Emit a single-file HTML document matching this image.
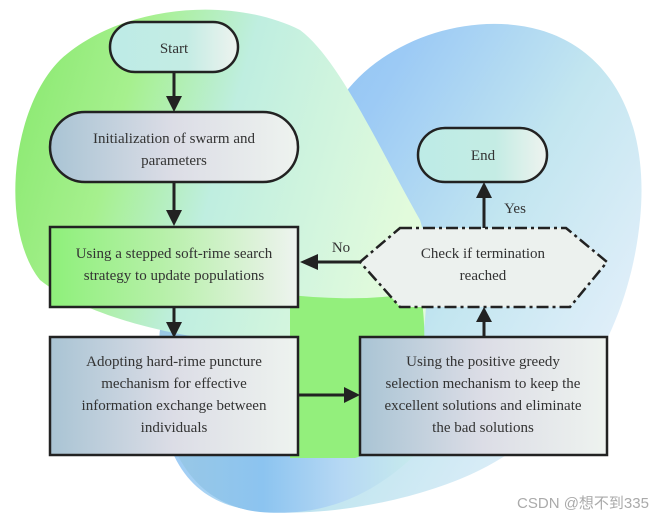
<!DOCTYPE html>
<html><head><meta charset="utf-8"><style>
body{margin:0;background:#fff;}
svg{display:block}
text{font-family:"Liberation Serif",serif;font-size:15px;fill:#333;text-anchor:middle}
</style></head><body>
<svg width="655" height="521" viewBox="0 0 655 521">
<defs>
<linearGradient id="g" x1="0" y1="0" x2="1" y2="0.3">
<stop offset="0" stop-color="#86e86c"/><stop offset="0.3" stop-color="#a6f08e"/><stop offset="0.55" stop-color="#bfeee0"/><stop offset="1" stop-color="#e2fbdc"/></linearGradient>
<linearGradient id="b" x1="0" y1="0" x2="1" y2="0.6">
<stop offset="0" stop-color="#7fbbef"/><stop offset="0.4" stop-color="#9ccaf5"/><stop offset="0.7" stop-color="#c3e6f0"/><stop offset="1" stop-color="#e2effa"/></linearGradient>
<linearGradient id="b2" x1="0" y1="0" x2="1" y2="0">
<stop offset="0" stop-color="#9ac8e4"/><stop offset="0.4" stop-color="#8cc4f0"/><stop offset="0.7" stop-color="#b6d8f4"/><stop offset="1" stop-color="#c8ecec"/></linearGradient>
<linearGradient id="box" x1="0" y1="0" x2="1" y2="0">
<stop offset="0" stop-color="#a9c4d4"/><stop offset="0.5" stop-color="#dcdde6"/><stop offset="1" stop-color="#eef3ef"/></linearGradient>
<linearGradient id="box2" x1="0" y1="0" x2="1" y2="0">
<stop offset="0" stop-color="#8ef07a"/><stop offset="0.45" stop-color="#b6f0a8"/><stop offset="1" stop-color="#eef3ef"/></linearGradient>
<linearGradient id="st" x1="0" y1="0" x2="1" y2="0">
<stop offset="0" stop-color="#bdebe6"/><stop offset="0.6" stop-color="#c4ece4"/><stop offset="1" stop-color="#eef3ef"/></linearGradient>
</defs>
<path d="M340 100 C380 40 470 10 540 30 C610 50 650 120 640 220 C630 320 580 420 480 470 C420 500 320 520 250 510 C180 500 150 440 160 330 Z" fill="url(#b)"/>
<path d="M160 330 C150 440 190 505 260 512 C330 518 380 490 420 450 L420 330 Z" fill="url(#b2)"/>
<path d="M60 60 C120 5 230 -5 300 30 C340 60 380 150 420 220 C430 250 428 320 420 350 C410 410 390 445 355 455 L290 455 L290 345 C200 345 90 320 40 280 C0 230 10 110 60 60 Z" fill="url(#g)"/>
<path d="M290 295 C340 300 390 300 420 290 C428 330 425 380 410 410 C395 440 375 452 355 458 L290 458 Z" fill="#93ef7c"/>
<g stroke="#222" stroke-width="3" fill="none">
<line x1="174" y1="72" x2="174" y2="100"/>
<line x1="174" y1="182" x2="174" y2="215"/>
<line x1="174" y1="307" x2="174" y2="326"/>
<line x1="298" y1="395" x2="347" y2="395"/>
<line x1="484" y1="337" x2="484" y2="318"/>
<line x1="484" y1="228" x2="484" y2="194"/>
<line x1="360" y1="262" x2="316" y2="262"/>
</g>
<g fill="#222">
<polygon points="166,96 182,96 174,112"/>
<polygon points="166,210 182,210 174,226"/>
<polygon points="166,322 182,322 174,338"/>
<polygon points="344,387 344,403 360,395"/>
<polygon points="476,322 492,322 484,307"/>
<polygon points="476,198 492,198 484,182"/>
<polygon points="318,254 318,270 300,262"/>
</g>
<rect x="110" y="22" width="128" height="50" rx="25" fill="url(#st)" stroke="#222" stroke-width="2.5"/>
<text x="174" y="53">Start</text>
<rect x="50" y="112" width="248" height="70" rx="35" fill="url(#box)" stroke="#222" stroke-width="2.5"/>
<text x="174" y="143">Initialization of swarm and</text>
<text x="174" y="165">parameters</text>
<rect x="418" y="128" width="129" height="54" rx="27" fill="url(#st)" stroke="#222" stroke-width="2.5"/>
<text x="483" y="160">End</text>
<rect x="50" y="227" width="248" height="80" fill="url(#box2)" stroke="#222" stroke-width="2.5"/>
<text x="174" y="258">Using a stepped soft-rime search</text>
<text x="174" y="280">strategy to update populations</text>
<polygon points="400,228 566,228 607,262 570,307 400,307 360,262" fill="#ecf1ee" stroke="#222" stroke-width="2.5" stroke-dasharray="12,4,3,4"/>
<text x="483" y="258">Check if termination</text>
<text x="483" y="280">reached</text>
<text x="341" y="252">No</text>
<text x="515" y="213">Yes</text>
<rect x="50" y="337" width="248" height="118" fill="url(#box)" stroke="#222" stroke-width="2.5"/>
<text x="174" y="366">Adopting hard-rime puncture</text>
<text x="174" y="388">mechanism for effective</text>
<text x="174" y="410">information exchange between</text>
<text x="174" y="432">individuals</text>
<rect x="360" y="337" width="247" height="118" fill="url(#box)" stroke="#222" stroke-width="2.5"/>
<text x="483" y="366">Using  the positive greedy</text>
<text x="483" y="388">selection mechanism to keep the</text>
<text x="483" y="410">excellent solutions and eliminate</text>
<text x="483" y="432">the bad solutions</text>
<text x="583" y="508" style="font-family:'Liberation Sans','Noto Sans CJK SC',sans-serif;font-size:15px;fill:#aaa">CSDN @想不到335</text>
</svg>
</body></html>
